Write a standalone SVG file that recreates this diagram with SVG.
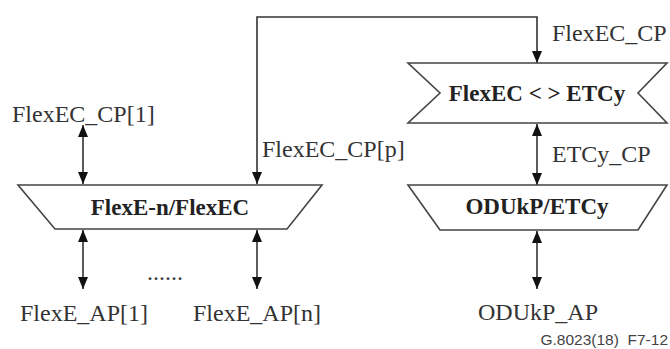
<svg xmlns="http://www.w3.org/2000/svg" width="670" height="349" viewBox="0 0 670 349">
<style>
.lbl{font-family:"Liberation Serif","Times New Roman",serif;font-size:24px;fill:#333}
.bl{font-family:"Liberation Serif","Times New Roman",serif;font-size:23px;font-weight:bold;fill:#222;text-anchor:middle}
.box{fill:#fff;stroke:#444;stroke-width:1.6}
.ln{fill:none;stroke:#333;stroke-width:1.6}
.note{font-family:"Liberation Sans",Arial,sans-serif;font-size:15.5px;fill:#444}
</style>
<defs>
<marker id="ah" viewBox="0 0 12 10" refX="12" refY="5" markerWidth="12" markerHeight="10" markerUnits="userSpaceOnUse" orient="auto-start-reverse">
<path d="M0,0 L12,5 L0,10 z" fill="#111"/>
</marker>
</defs>
<rect width="670" height="349" fill="#fff"/>
<g id="connectors">
<line class="ln" x1="83" y1="125" x2="83" y2="184" marker-start="url(#ah)" marker-end="url(#ah)"/>
<polyline class="ln" points="257,184 257,17 537,17 537,63" marker-start="url(#ah)" marker-end="url(#ah)"/>
<line class="ln" x1="83" y1="230" x2="83" y2="289" marker-start="url(#ah)" marker-end="url(#ah)"/>
<line class="ln" x1="257" y1="230" x2="257" y2="289" marker-start="url(#ah)" marker-end="url(#ah)"/>
<line class="ln" x1="537" y1="124" x2="537" y2="185" marker-start="url(#ah)" marker-end="url(#ah)"/>
<line class="ln" x1="537" y1="231" x2="537" y2="289" marker-start="url(#ah)" marker-end="url(#ah)"/>
</g>
<g id="flexe-n-flexec">
<polygon class="box" points="18,185 322,185 287,229 55,229"/>
<text class="bl" x="170" y="215">FlexE-n/FlexEC</text>
</g>
<g id="flexec-etcy">
<polygon class="box" points="408,63 667,63 638,93 667,123 408,123 440,93"/>
<text class="bl" x="537" y="101">FlexEC &lt; &gt; ETCy</text>
</g>
<g id="odukp-etcy">
<polygon class="box" points="408,185 667,185 638,230 440,230"/>
<text class="bl" x="537" y="214">ODUkP/ETCy</text>
</g>
<g id="labels">
<text class="lbl" x="12" y="122">FlexEC_CP[1]</text>
<text class="lbl" x="262" y="157">FlexEC_CP[p]</text>
<text class="lbl" x="552" y="41">FlexEC_CP</text>
<text class="lbl" x="552" y="162">ETCy_CP</text>
<text class="lbl" x="20" y="321">FlexE_AP[1]</text>
<text class="lbl" x="193" y="321">FlexE_AP[n]</text>
<text class="lbl" x="538" y="320" text-anchor="middle">ODUkP_AP</text>
<text class="lbl" x="147" y="280">......</text>
<text class="note" x="668" y="345" text-anchor="end">G.8023(18)&#160; F7-12</text>
</g>
</svg>
